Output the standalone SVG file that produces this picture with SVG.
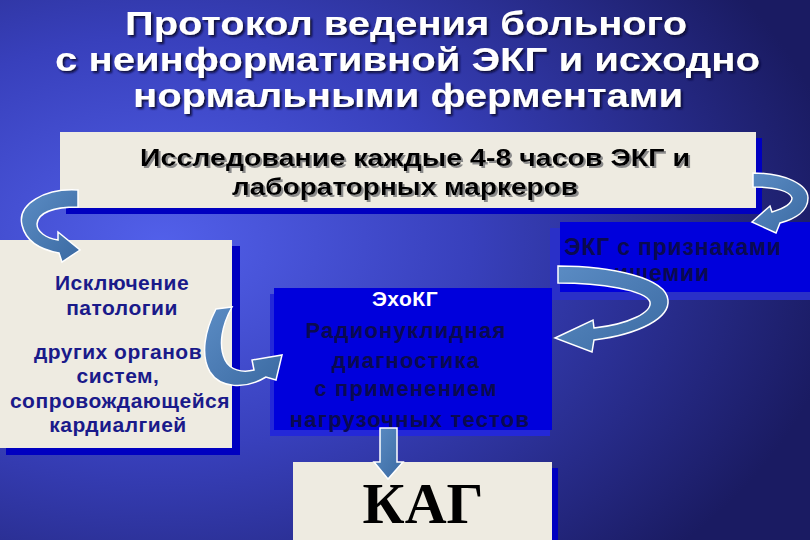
<svg xmlns="http://www.w3.org/2000/svg" width="810" height="540" viewBox="0 0 810 540">
<defs>
<radialGradient id="bg" cx="0.2" cy="0.45" r="0.85">
<stop offset="0" stop-color="#5260ea"/>
<stop offset="0.45" stop-color="#3840bc"/>
<stop offset="1" stop-color="#1a1b62"/>
</radialGradient>
<linearGradient id="arr" x1="0" y1="0" x2="1" y2="1">
<stop offset="0" stop-color="#5b8cc4"/>
<stop offset="1" stop-color="#3b6aa2"/>
</linearGradient>
<filter id="shDark" x="-5%" y="-20%" width="110%" height="150%">
<feDropShadow dx="2" dy="2" stdDeviation="0.8" flood-color="#10103a" flood-opacity="1"/>
</filter>
<filter id="shGray" x="-5%" y="-20%" width="110%" height="150%">
<feDropShadow dx="2" dy="2" stdDeviation="0.6" flood-color="#8a8a8a" flood-opacity="1"/>
</filter>
<style>
.title{font-family:"Liberation Sans",Arial,sans-serif;font-weight:bold;font-size:34px;fill:#ffffff}
.cream{fill:#eeebe1}
.shadow{fill:#0000c0}
.blue{fill:#0000dc}
.t1{font-family:"Liberation Sans",Arial,sans-serif;font-weight:bold;font-size:23px;fill:#000000}
.t2{font-family:"Liberation Sans",Arial,sans-serif;font-weight:bold;font-size:21px;letter-spacing:0.5px;fill:#1a1a8a;text-anchor:middle}
.t3{font-family:"Liberation Sans",Arial,sans-serif;font-weight:bold;font-size:22px;letter-spacing:1.2px;fill:#0a0a50;text-anchor:middle}
.t3w{fill:#ffffff;font-size:21px;letter-spacing:0.5px}
.t4{font-family:"Liberation Sans",Arial,sans-serif;font-weight:bold;font-size:23px;letter-spacing:0.8px;fill:#0a0a50;text-anchor:middle}
.kag{font-family:"Liberation Serif","Times New Roman",serif;font-weight:bold;font-size:58px;fill:#000000;text-anchor:middle}
.arrow{fill:url(#arr);stroke:#ffffff;stroke-width:1.5;stroke-linejoin:miter}
</style>
</defs>
<rect width="810" height="540" fill="url(#bg)"/>

<g id="title" filter="url(#shDark)">
<text class="title" x="125" y="35" textLength="562" lengthAdjust="spacingAndGlyphs">Протокол ведения больного</text>
<text class="title" x="55" y="71" textLength="705" lengthAdjust="spacingAndGlyphs">с неинформативной ЭКГ и исходно</text>
<text class="title" x="133" y="107" textLength="550" lengthAdjust="spacingAndGlyphs">нормальными ферментами</text>
</g>

<g id="node-research">
<rect class="shadow" x="66" y="138" width="696" height="76"/>
<rect class="cream" x="60" y="132" width="696" height="76"/>
<g filter="url(#shGray)">
<text class="t1" x="140" y="166" textLength="550" lengthAdjust="spacingAndGlyphs">Исследование каждые 4-8 часов ЭКГ и</text>
<text class="t1" x="232" y="195" textLength="346" lengthAdjust="spacingAndGlyphs">лабораторных маркеров</text>
</g>
</g>

<g id="node-exclusion">
<rect class="shadow" x="6" y="246" width="234" height="209"/>
<rect class="cream" x="0" y="240" width="232" height="208"/>
<text class="t2" x="122" y="290">Исключение</text>
<text class="t2" x="122" y="315">патологии</text>
<text class="t2" x="118" y="359">других органов</text>
<text class="t2" x="118" y="383">систем,</text>
<text class="t2" x="120" y="408">сопровождающейся</text>
<text class="t2" x="118" y="432">кардиалгией</text>
</g>

<g id="node-ischemia">
<rect fill="#2a30c8" x="550" y="228" width="260" height="72"/>
<rect class="blue" x="560" y="222" width="250" height="70"/>
<text class="t4" x="673" y="255">ЭКГ с признаками</text>
<text class="t4" x="662" y="281">ишемии</text>
</g>

<g id="node-echo">
<rect fill="#2428d8" x="270" y="294" width="280" height="142"/>
<rect class="blue" x="274" y="288" width="278" height="142"/>
<text class="t3 t3w" x="405" y="306">ЭхоКГ</text>
<text class="t3" x="406" y="338">Радионуклидная</text>
<text class="t3" x="406" y="368">диагностика</text>
<text class="t3" x="406" y="396">с применением</text>
<text class="t3" x="410" y="427">нагрузочных тестов</text>
</g>

<g id="node-kag">
<rect class="shadow" x="299" y="468" width="259" height="72"/>
<rect class="cream" x="293" y="462" width="259" height="78"/>
<text class="kag" x="423" y="523">КАГ</text>
</g>

<g id="connectors">
<path class="arrow" d="M78,190 C45,188 17,204 22,225 C26,242 42,250 59,253 L62,262 L80,250 L58,232 L58,240 C46,238 37,232 37,224 C38,212 55,207 78,207 Z"/>
<path class="arrow" d="M753,173 C786,173 808,185 808,198 C808,211 795,219 780,223 L776,233 L752,222 L770,206 L772,212 C785,208 792,203 792,198 C790,191 775,187 753,187 Z"/>
<path class="arrow" d="M216,309 L232,307 C222,325 218,345 225,360 C230,370 242,373 254,370 L252,360 L282,355 L276,380 L266,377 C245,390 220,388 210,372 C200,355 205,330 216,309 Z"/>
<path class="arrow" d="M558,266 C612,266 666,278 668,300 C670,318 640,334 594,340 L592,352 L555,338 L593,320 L594,328 C630,324 652,312 650,302 C646,290 600,283 558,283 Z"/>
<path class="arrow" d="M380,428 L397,428 L397,462 L403,462 L388,479 L374,462 L380,462 Z"/>
</g>
</svg>
